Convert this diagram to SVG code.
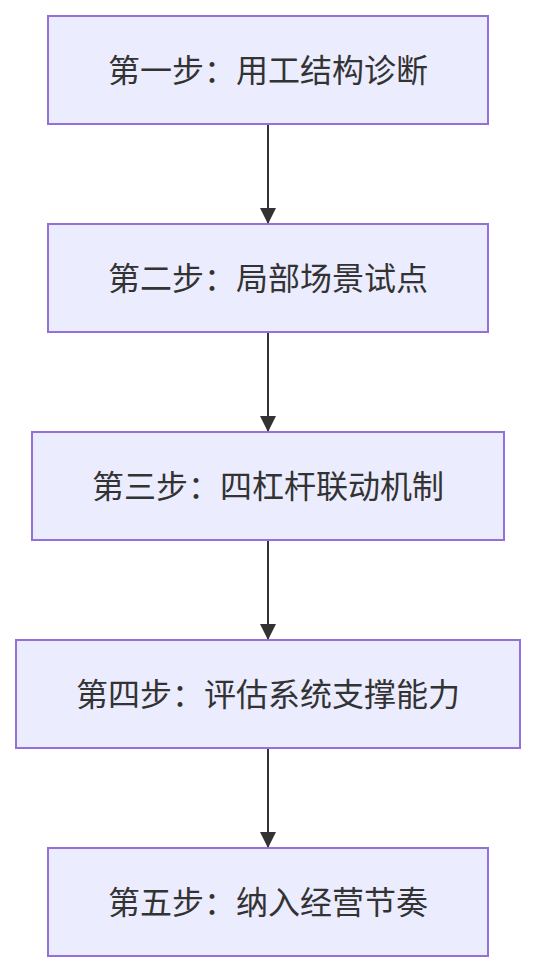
<svg xmlns="http://www.w3.org/2000/svg" width="536" height="972" viewBox="0 0 536 972">
<style>
.box{fill:#ECECFF;stroke:#9370DB;stroke-width:2}
.lbl{font-family:"Noto Sans CJK SC","Noto Sans",sans-serif;font-size:32px;fill:#333;text-anchor:middle;dominant-baseline:central}
.edge{stroke:#333;stroke-width:2;fill:none}
</style>
<defs>
<marker id="arr" markerUnits="userSpaceOnUse" markerWidth="16" markerHeight="16" refX="16" refY="8" orient="auto" viewBox="0 0 16 16">
<path d="M0,0 L16,8 L0,16 Z" fill="#333"/>
</marker>
</defs>
<rect width="536" height="972" fill="#fff"/>
<g id="connectors">
<line class="edge" x1="268" y1="124" x2="268" y2="224" marker-end="url(#arr)"/>
<line class="edge" x1="268" y1="332" x2="268" y2="432" marker-end="url(#arr)"/>
<line class="edge" x1="268" y1="540" x2="268" y2="640" marker-end="url(#arr)"/>
<line class="edge" x1="268" y1="748" x2="268" y2="848" marker-end="url(#arr)"/>
</g>
<g id="n1"><rect class="box" x="48" y="16" width="440" height="108"/><text class="lbl" x="268" y="68">第一步：用工结构诊断</text></g>
<g id="n2"><rect class="box" x="48" y="224" width="440" height="108"/><text class="lbl" x="268" y="276">第二步：局部场景试点</text></g>
<g id="n3"><rect class="box" x="32" y="432" width="472" height="108"/><text class="lbl" x="268" y="484">第三步：四杠杆联动机制</text></g>
<g id="n4"><rect class="box" x="16" y="640" width="504" height="108"/><text class="lbl" x="268" y="692">第四步：评估系统支撑能力</text></g>
<g id="n5"><rect class="box" x="48" y="848" width="440" height="108"/><text class="lbl" x="268" y="900">第五步：纳入经营节奏</text></g>
</svg>
